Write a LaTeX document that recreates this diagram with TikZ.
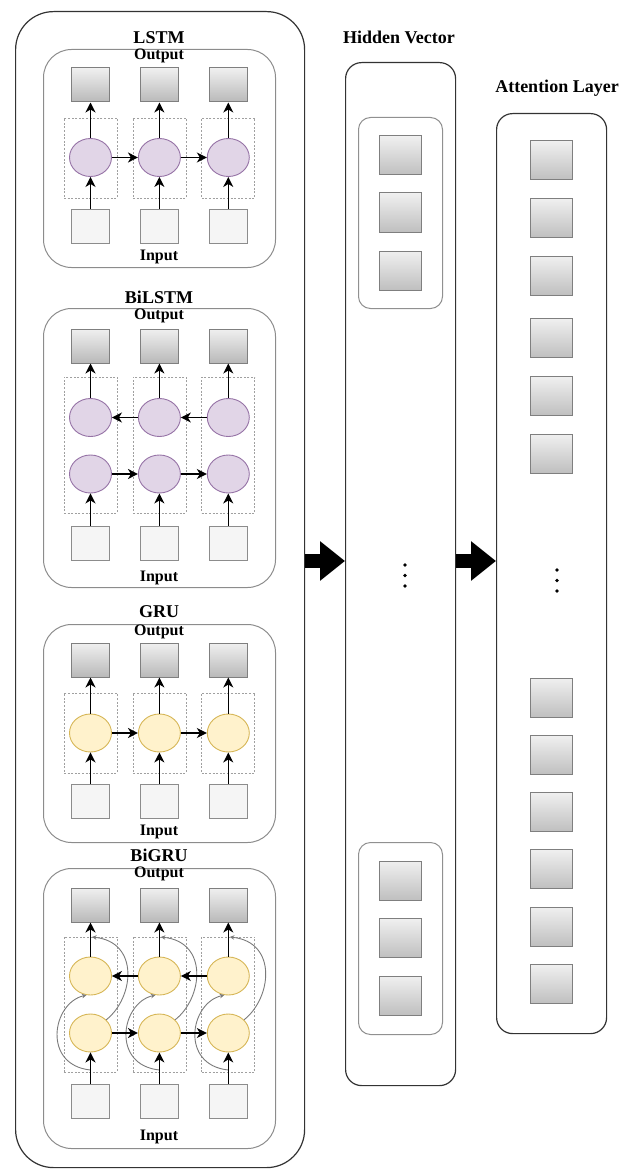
\documentclass[tikz,border=0pt]{standalone}
\usepackage{fontspec}
\setmainfont{Liberation Serif}
\usetikzlibrary{shapes.geometric,arrows.meta}
\definecolor{lstmfill}{HTML}{E1D5E7}
\definecolor{lstmline}{HTML}{9673A6}
\definecolor{grufill}{HTML}{FFF2CC}
\definecolor{gruline}{HTML}{D6B656}
\definecolor{boxline}{HTML}{7F7F7F}
\definecolor{inbg}{HTML}{F5F5F5}
\definecolor{panelline}{HTML}{8C8C8C}
\definecolor{contline}{HTML}{333333}
\definecolor{grpline}{HTML}{A0A0A0}
\definecolor{curveline}{HTML}{7A7A7A}
\begin{document}
\begin{tikzpicture}[x=1pt,y=-1pt,
  container/.style={draw=contline,line width=1.2pt,rectangle,anchor=north west,inner sep=0pt},
  panel/.style={draw=panelline,line width=1pt,rectangle,rounded corners=28pt,anchor=north west,inner sep=0pt},
  vgroup/.style={draw=grpline!90!black,line width=1pt,rectangle,rounded corners=12pt,anchor=north west,inner sep=0pt},
  obox/.style={rectangle,draw=boxline,line width=1pt,top color=gray!12,bottom color=gray!55,minimum width=38pt,minimum height=34pt,inner sep=0pt},
  vbox/.style={rectangle,draw=boxline,line width=1pt,top color=gray!12,bottom color=gray!50,minimum width=42pt,minimum height=39pt,inner sep=0pt},
  ibox/.style={rectangle,draw=boxline!90,line width=1pt,fill=inbg,minimum width=38pt,minimum height=34pt,inner sep=0pt},
  lcell/.style={ellipse,draw=lstmline,line width=0.9pt,fill=lstmfill,minimum width=42pt,minimum height=38pt,inner sep=0pt},
  gcell/.style={ellipse,draw=gruline,line width=0.9pt,fill=grufill,minimum width=42pt,minimum height=38pt,inner sep=0pt},
  grp/.style={rectangle,draw=grpline,line width=0.8pt,dash pattern=on 2pt off 1.6pt,minimum width=53pt,inner sep=0pt},
  arr/.style={draw=black,line width=1.4pt,-{Stealth[length=10pt,width=10pt,inset=3pt]}},
  carr/.style={draw=curveline,line width=0.9pt,-{Stealth[length=4.5pt,width=4.5pt]}},
  bigarr/.style={draw=black,line width=14pt,-{Triangle[length=25pt,width=38pt]}},
  ttl/.style={font=\fontsize{18}{20}\selectfont\bfseries,inner sep=0pt},
  lbl/.style={font=\fontsize{16}{18}\selectfont\bfseries,inner sep=0pt},
  dot/.style={circle,fill=black,inner sep=0pt,minimum size=3.6pt}
]
\useasboundingbox (0,0) rectangle (624,1169);

% containers
\node[container,rounded corners=38pt,minimum width=289pt,minimum height=1156pt] (outer) at (15,11) {};
\node[container,rounded corners=16pt,minimum width=110pt,minimum height=1023pt] (hv) at (345,62) {};
\node[container,rounded corners=16pt,minimum width=110pt,minimum height=920pt] (att) at (496,113) {};
\node[ttl] (thv) at (399,37) {Hidden Vector};
\node[ttl] (tatt) at (557,88) {Attention Layer};

% ---------------- LSTM ----------------
\node[panel,minimum width=232pt,minimum height=218pt] (pL) at (43,49) {};
\node[ttl] (tL) at (159,38) {LSTM};
\node[lbl] (oL) at (159,56) {Output};
\node[lbl] (iL) at (159,257) {Input};
\foreach \i/\x in {1/90.5,2/159.4,3/228.3}{
  \node[grp,minimum height=80pt] (gL\i) at (\x,158) {};
  \node[obox] (obL\i) at (\x,85) {};
  \node[lcell] (cL\i) at (\x,157.5) {};
  \node[ibox] (ibL\i) at (\x,226) {};
  \draw[arr] (ibL\i) -- (cL\i);
  \draw[arr] (cL\i) -- (obL\i);
}
\draw[arr] (cL1) -- (cL2);
\draw[arr] (cL2) -- (cL3);

% ---------------- BiLSTM ----------------
\node[panel,minimum width=232pt,minimum height=279pt] (pB) at (43,308) {};
\node[ttl] (tB) at (159,297) {BiLSTM};
\node[lbl] (oB) at (159,316) {Output};
\node[lbl] (iB) at (159,578) {Input};
\foreach \i/\x in {1/90.5,2/159.4,3/228.3}{
  \node[grp,minimum height=136pt] (gB\i) at (\x,445) {};
  \node[obox] (obB\i) at (\x,346) {};
  \node[lcell] (ctB\i) at (\x,417.5) {};
  \node[lcell] (cbB\i) at (\x,474) {};
  \node[ibox] (ibB\i) at (\x,543) {};
  \draw[arr] (ibB\i) -- (cbB\i);
  \draw[arr] (ctB\i) -- (obB\i);
}
\draw[arr] (cbB1) -- (cbB2);
\draw[arr] (cbB2) -- (cbB3);
\draw[arr] (ctB3) -- (ctB2);
\draw[arr] (ctB2) -- (ctB1);

% ---------------- GRU ----------------
\node[panel,minimum width=232pt,minimum height=218pt] (pG) at (43,624) {};
\node[ttl] (tG) at (159,612) {GRU};
\node[lbl] (oG) at (159,632) {Output};
\node[lbl] (iG) at (159,832) {Input};
\foreach \i/\x in {1/90.5,2/159.4,3/228.3}{
  \node[grp,minimum height=80pt] (gG\i) at (\x,733) {};
  \node[obox] (obG\i) at (\x,660) {};
  \node[gcell] (cG\i) at (\x,733) {};
  \node[ibox] (ibG\i) at (\x,801) {};
  \draw[arr] (ibG\i) -- (cG\i);
  \draw[arr] (cG\i) -- (obG\i);
}
\draw[arr] (cG1) -- (cG2);
\draw[arr] (cG2) -- (cG3);

% ---------------- BiGRU ----------------
\node[panel,minimum width=232pt,minimum height=280pt] (pR) at (43,868) {};
\node[ttl] (tR) at (159,855) {BiGRU};
\node[lbl] (oR) at (159,874) {Output};
\node[lbl] (iR) at (159,1137) {Input};
\foreach \i/\x in {1/90.5,2/159.4,3/228.3}{
  \node[grp,minimum height=135pt] (gR\i) at (\x,1004.5) {};
  \node[obox] (obR\i) at (\x,905) {};
  \node[ibox] (ibR\i) at (\x,1101.5) {};
  \coordinate (sR\i) at (\x,1070);
  \coordinate (eR\i) at ({\x+1.5},937);
  \node[gcell] (ctR\i) at (\x,976) {};
  \node[gcell] (cbR\i) at (\x,1033) {};
  \draw[carr] (sR\i) .. controls ({\x-48.5},1065) and ({\x-38.5},1003) .. (ctR\i.258);
  \draw[carr] (cbR\i.40) .. controls ({\x+43.5},998) and ({\x+49.5},942) .. (eR\i);
  \draw[arr] (ibR\i) -- (cbR\i);
  \draw[arr] (ctR\i) -- (obR\i);
}
\draw[arr] (cbR1) -- (cbR2);
\draw[arr] (cbR2) -- (cbR3);
\draw[arr] (ctR3) -- (ctR2);
\draw[arr] (ctR2) -- (ctR1);

% ---------------- Hidden vector ----------------
\node[vgroup,minimum width=84pt,minimum height=191pt] (hg1) at (358,117) {};
\node[vgroup,minimum width=84pt,minimum height=192pt] (hg2) at (358,842) {};
\foreach \i/\y in {1/155.5,2/212.5,3/270.5,4/880.5,5/938,6/995.5}{
  \node[vbox] (hb\i) at (400,\y) {};
}
\node[dot] (hd1) at (405,565) {};
\node[dot] (hd2) at (405,575.5) {};
\node[dot] (hd3) at (405,586) {};

% ---------------- Attention ----------------
\foreach \i/\y in {1/160.5,2/218,3/275.5,4/338,5/396,6/453.5,7/697.5,8/755,9/812,10/869,11/926.5,12/984}{
  \node[vbox] (ab\i) at (551,\y) {};
}
\node[dot] (ad1) at (557,570) {};
\node[dot] (ad2) at (557,580.5) {};
\node[dot] (ad3) at (557,591) {};

% ---------------- big arrows ----------------
\coordinate (ya) at (0,561);
\draw[bigarr] (outer.east |- ya) -- (hv.west |- ya);
\draw[bigarr] (hv.east |- ya) -- (att.west |- ya);
\end{tikzpicture}
\end{document}
